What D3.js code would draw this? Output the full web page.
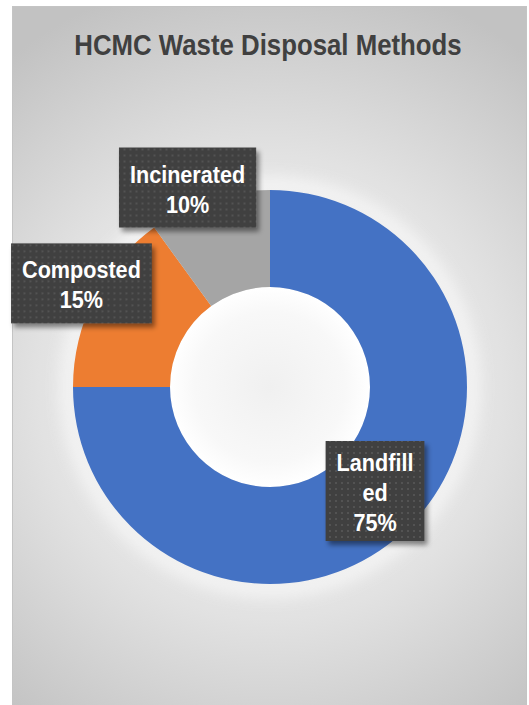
<!DOCTYPE html>
<html>
<head>
<meta charset="utf-8">
<script src="https://cdn.jsdelivr.net/npm/d3@7"></script>
<style>
  html, body { margin: 0; padding: 0; background: #fff; }
  svg { display: block; }
</style>
</head>
<body>
<svg width="529" height="705"></svg>
<script>
// data
var categories = ["Landfilled", "Composted", "Incinerated"];
var values = [75, 15, 10];
var colors = ["#4472C4", "#ED7D31", "#A5A5A5"];
// how the labels wrap in the original
var labelLines = [["Landfill", "ed"], ["Composted"], ["Incinerated"]];

var svg = d3.select("svg"),
    W = +svg.attr("width"),
    H = +svg.attr("height");

var frame = {x: 12, y: 6, w: 515, h: 699};
var cx = 270, cy = 387, outerR = 197, innerR = 100;

var defs = svg.append("defs");

// background radial gradient
var bg = defs.append("radialGradient").attr("id", "bg")
    .attr("gradientUnits", "userSpaceOnUse")
    .attr("cx", cx).attr("cy", cy).attr("r", 420);
bg.append("stop").attr("offset", "0%").attr("stop-color", "#f4f4f4");
bg.append("stop").attr("offset", "55%").attr("stop-color", "#e2e2e2");
bg.append("stop").attr("offset", "100%").attr("stop-color", "#c2c2c2");

var hole = defs.append("radialGradient").attr("id", "hole");
hole.append("stop").attr("offset", "0%").attr("stop-color", "#f0f0f0");
hole.append("stop").attr("offset", "75%").attr("stop-color", "#f8f8f8");
hole.append("stop").attr("offset", "100%").attr("stop-color", "#ffffff");

var glow = defs.append("filter").attr("id", "glow")
    .attr("x", "-30%").attr("y", "-30%").attr("width", "160%").attr("height", "160%");
glow.append("feGaussianBlur").attr("stdDeviation", 9);

var shadow = defs.append("filter").attr("id", "shadow")
    .attr("x", "-20%").attr("y", "-20%").attr("width", "150%").attr("height", "150%");
shadow.append("feDropShadow").attr("dx", 3).attr("dy", 4)
    .attr("stdDeviation", 2.5).attr("flood-color", "#000").attr("flood-opacity", 0.45);

var dots = defs.append("pattern").attr("id", "dots")
    .attr("patternUnits", "userSpaceOnUse").attr("width", 6).attr("height", 6);
dots.append("rect").attr("width", 6).attr("height", 6).attr("fill", "#404040");
dots.append("rect").attr("x", 2).attr("y", 2).attr("width", 2).attr("height", 2)
    .attr("fill", "#525252");

svg.append("rect")
   .attr("x", frame.x + 0.5).attr("y", frame.y + 0.5)
   .attr("width", frame.w - 1).attr("height", frame.h)
   .attr("fill", "url(#bg)")
   .attr("stroke", "#c4c4c4");

// title, squeezed horizontally like the original
svg.append("text")
   .attr("transform", "translate(268,55) scale(0.86,1)")
   .attr("text-anchor", "middle")
   .attr("font-family", "'Liberation Sans', Arial, sans-serif")
   .attr("font-weight", "bold")
   .attr("font-size", 30)
   .attr("fill", "#404040")
   .text("HCMC Waste Disposal Methods");

var pie = d3.pie().sort(null)(values);
var arc = d3.arc().innerRadius(innerR).outerRadius(outerR);
var outArc = d3.arc().innerRadius(215).outerRadius(215);

var g = svg.append("g").attr("transform", "translate(" + cx + "," + cy + ")");

// soft white glow around the ring
g.append("circle").attr("r", outerR + 4)
 .attr("fill", "none").attr("stroke", "#ffffff").attr("stroke-width", 14)
 .attr("opacity", 0.8).attr("filter", "url(#glow)");
g.append("circle").attr("r", innerR).attr("fill", "url(#hole)");

g.selectAll("path.slice")
 .data(pie)
 .enter().append("path")
 .attr("class", "slice")
 .attr("d", arc)
 .attr("fill", function(d, i) { return colors[i]; });

// labels
var fs = 24, lh = 30, sx = 0.9;
pie.forEach(function(d, i) {
  var lines = labelLines[i].concat([values[i] + "%"]);
  var big = (d.endAngle - d.startAngle) > Math.PI;
  var p = big ? arc.centroid(d) : outArc.centroid(d);
  // small-slice labels get nudged to sit where the original put them
  if (!big && i === values.length - 1) p[0] -= 16, p[1] += 6;
  else if (!big) p[0] += 3, p[1] -= 5;
  var lg = g.append("g").attr("transform", "translate(" + p[0] + "," + p[1] + ")");
  var box = lg.append("rect").attr("fill", "url(#dots)").attr("filter", "url(#shadow)");
  var t = lg.append("text")
    .attr("text-anchor", "middle")
    .attr("font-family", "'Liberation Sans', Arial, sans-serif")
    .attr("font-weight", "bold")
    .attr("font-size", fs)
    .attr("fill", "#ffffff");
  var y0 = -(lines.length - 1) * lh / 2 + 9;
  lines.forEach(function(s, k) {
    t.append("tspan").attr("x", 0).attr("y", y0 + k * lh).text(s);
  });
  t.attr("transform", "scale(" + sx + ",1)");
  var bw = t.node().getBBox().width * sx + 22;
  var bh = lines.length * lh + (lines.length > 2 ? 10 : 20);
  box.attr("x", -bw / 2).attr("y", -bh / 2 - 1).attr("width", bw).attr("height", bh);
});
</script>
</body>
</html>
